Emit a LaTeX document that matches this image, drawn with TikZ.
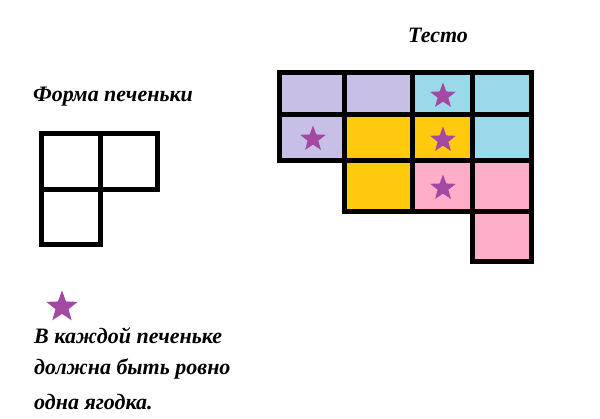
\documentclass[tikz,border=0pt]{standalone}
\usepackage{fontspec}
\setmainfont{Liberation Serif}
\usetikzlibrary{shapes.geometric}
\definecolor{lav}{HTML}{C8BFE7}
\definecolor{cyanc}{HTML}{99D9EA}
\definecolor{gold}{HTML}{FFC90E}
\definecolor{rose}{HTML}{FFAEC9}
\definecolor{berry}{HTML}{A349A4}
\tikzset{
  cell/.style={draw=black, line width=5pt},
  berrystar/.style={star, star points=5, star point ratio=2.4, fill=berry, draw=none, inner sep=0pt, minimum size=27pt},
  hand/.style={font=\fontsize{22}{26}\selectfont\bfseries\itshape, inner sep=0pt}
}
\begin{document}
\begin{tikzpicture}[x=1pt,y=-1pt]
\useasboundingbox (0,0) rectangle (600,418);
\fill[white] (0,0) rectangle (600,418);
% small shape
\draw[cell] (41,133) rectangle (100,189);
\draw[cell] (100,133) rectangle (157,189);
\draw[cell] (41,189) rectangle (100,244);
% big dough
\draw[cell, fill=lav] (279,72) rectangle (344,114);
\draw[cell, fill=lav] (344,72) rectangle (412,114);
\draw[cell, fill=cyanc] (412,72) rectangle (472,114);
\draw[cell, fill=cyanc] (472,72) rectangle (531,114);
\draw[cell, fill=lav] (279,114) rectangle (344,160);
\draw[cell, fill=gold] (344,114) rectangle (412,160);
\draw[cell, fill=gold] (412,114) rectangle (472,160);
\draw[cell, fill=cyanc] (472,114) rectangle (531,160);
\draw[cell, fill=gold] (344,160) rectangle (412,211);
\draw[cell, fill=rose] (412,160) rectangle (472,211);
\draw[cell, fill=rose] (472,160) rectangle (531,211);
\draw[cell, fill=rose] (472,211) rectangle (531,261);
% stars
\node[berrystar] (s1) at (443,96) {};
\node[berrystar] (s2) at (313,139) {};
\node[berrystar] (s3) at (443,140) {};
\node[berrystar] (s4) at (443,188) {};
\node[berrystar, minimum size=33pt] (s5) at (62,307) {};
% texts
\node[hand] (t1) at (113,97) {Форма печеньки};
\node[hand] (t2) at (438,35) {Тесто};
\node[hand, anchor=west] (t3) at (34,336) {В каждой печеньке};
\node[hand, anchor=west] (t4) at (34,369) {должна быть ровно};
\node[hand, anchor=west] (t5) at (34,402) {одна ягодка.};
\end{tikzpicture}
\end{document}
